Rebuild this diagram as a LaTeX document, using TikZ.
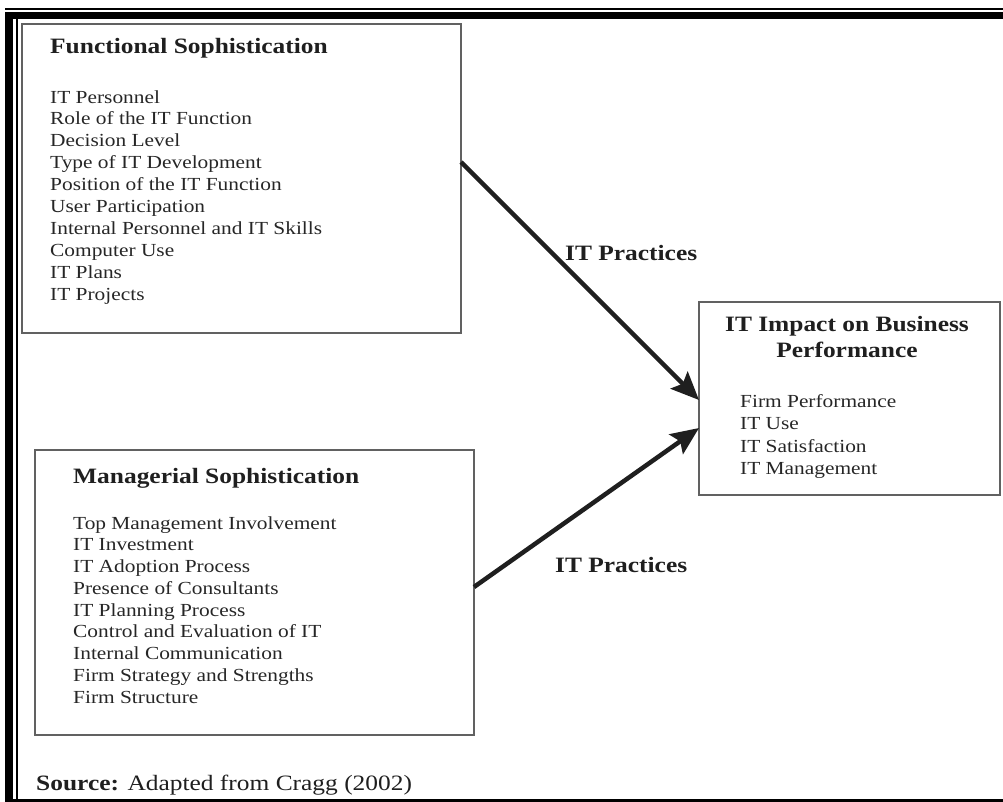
\documentclass[tikz,border=0pt]{standalone}
\usepackage{fontspec}
\setmainfont{Liberation Serif}[FakeStretch=1.16]
\usetikzlibrary{arrows.meta,calc}

\begin{document}
\begin{tikzpicture}[x=1bp,y=-1bp,
  box/.style={draw=black!62, line width=1.8bp, inner sep=0pt, outer sep=0pt, anchor=north west},
  heading/.style={anchor=base west, inner sep=0pt, text=black!88, font=\fontsize{22}{26}\selectfont\bfseries},
  item/.style={anchor=base west, inner sep=0pt, text=black!85, font=\fontsize{18.5}{22}\selectfont},
  link/.style={line width=4.5bp, draw=black!88, -{Stealth[length=28bp,width=24bp,inset=5bp]}},
  tag/.style={anchor=base west, inner sep=0pt, text=black!88, font=\fontsize{22}{26}\selectfont\bfseries}]

\useasboundingbox (0,0) rectangle (1003,802);

% page frame: thin and thick rules along the top, thick and thin down the left, thick at the bottom
\fill[black] (5,8) rectangle (1003,10);
\fill[black] (5,12) rectangle (1003,19);
\fill[black] (5,12) rectangle (13,802);
\fill[black] (16,19) rectangle (18,802);
\fill[black] (5,799) rectangle (1003,802);

% the three boxes
\node[box, minimum width=439bp, minimum height=309bp] (func) at (22,24) {};
\node[box, minimum width=439bp, minimum height=285bp] (mgr) at (35,450) {};
\node[box, minimum width=301bp, minimum height=193bp] (impact) at (699,302) {};

% functional sophistication
\node[heading] (ftitle) at (50,54) {Functional Sophistication};
\foreach \t [count=\i from 0] in {IT Personnel, Role of the IT Function, Decision Level,
  Type of IT Development, Position of the IT Function, User Participation,
  Internal Personnel and IT Skills, Computer Use, IT Plans, IT Projects}
  \node[item] (f\i) at (50,{103+21.9*\i}) {\t};

% managerial sophistication
\node[heading] (mtitle) at (73,483) {Managerial Sophistication};
\foreach \t [count=\i from 0] in {Top Management Involvement, IT Investment,
  IT Adoption Process, Presence of Consultants, IT Planning Process,
  Control and Evaluation of IT, Internal Communication,
  Firm Strategy and Strengths, Firm Structure}
  \node[item] (m\i) at (73,{529+21.75*\i}) {\t};

% IT impact
\node[heading, anchor=base] (it1) at (847,331) {IT Impact on Business};
\node[heading, anchor=base] (it2) at (847,357) {Performance};
\foreach \t [count=\i from 0] in {Firm Performance, IT Use, IT Satisfaction, IT Management}
  \node[item] (p\i) at (740,{407+22.6*\i}) {\t};

% connectors
\draw[link] ($(func.north east)+(0,138)$) -- ($(impact.north west)+(0,98)$);
\draw[link] ($(mgr.north east)+(0,137)$) -- ($(impact.north west)+(0,126)$);
\node[tag] (lab1) at (565,260) {IT Practices};
\node[tag] (lab2) at (555,572) {IT Practices};

% source line
\node[anchor=base west, inner sep=0pt, text=black!88, font=\fontsize{22}{26}\selectfont] (src) at (36,790)
  {\textbf{Source:} Adapted from Cragg (2002)};
\end{tikzpicture}
\end{document}
